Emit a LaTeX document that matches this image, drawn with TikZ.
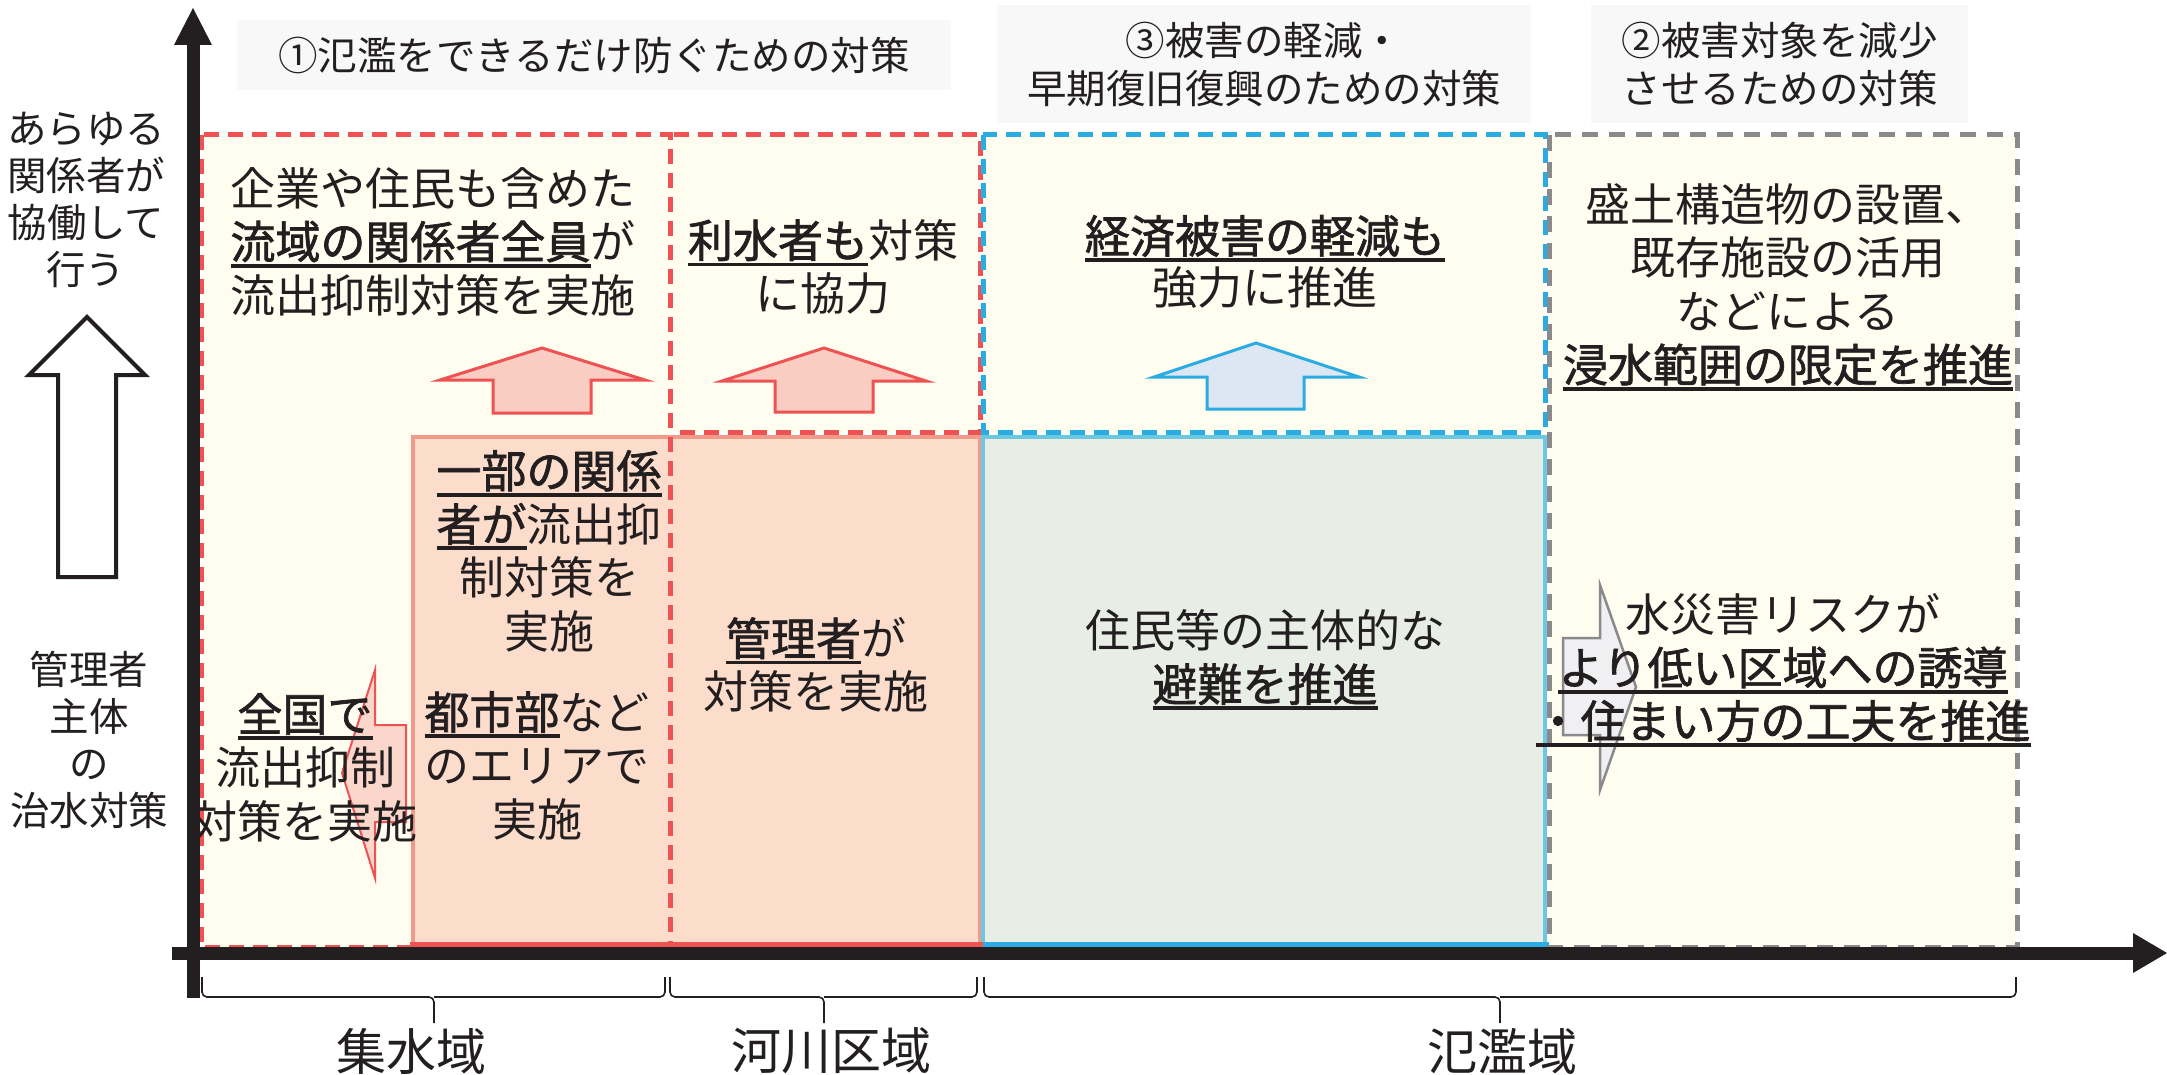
\documentclass[tikz,border=0pt]{standalone}
\usepackage{fontspec}
\setmainfont{Noto Sans CJK JP}
\definecolor{cream}{HTML}{FEFDF0}
\definecolor{redd}{HTML}{EF5253}
\definecolor{salmon}{HTML}{F2998A}
\definecolor{pinkf}{HTML}{FCDCCB}
\definecolor{blued}{HTML}{2AACE2}
\definecolor{lblue}{HTML}{6CC7E0}
\definecolor{greenf}{HTML}{E8EEE6}
\definecolor{grayd}{HTML}{8A8A8C}
\definecolor{hdrbg}{HTML}{F8F8F8}
\definecolor{pinkarrow}{HTML}{F9CDC2}
\definecolor{bluearrow}{HTML}{DCE7F3}
\definecolor{grayarrow}{HTML}{F0F0F2}
\definecolor{ink}{HTML}{231F20}
\newcommand\uln[1]{\setbox0=\hbox{#1}\rlap{\rule[-0.2em]{\wd0}{0.085em}}\box0}
\newcommand\ub[1]{\uln{\addfontfeature{FakeBold=1.5}#1}}
\begin{document}
\begin{tikzpicture}[x=1pt,y=-1pt,
  body/.style={font=\fontsize{45}{53.5}\selectfont, align=center, inner sep=0pt, text=ink},
  hdr/.style={font=\fontsize{39.5}{48}\selectfont, align=center, inner sep=0pt, text=ink, fill=hdrbg},
  side/.style={font=\fontsize{39.5}{47}\selectfont, align=center, inner sep=0pt, text=ink},
  foot/.style={font=\fontsize{50}{56}\selectfont, inner sep=0pt, text=ink},
  reddash/.style={draw=redd, line width=5pt, dash pattern=on 15pt off 9pt},
  bluedash/.style={draw=blued, line width=5pt, dash pattern=on 15pt off 9pt},
  graydash/.style={draw=grayd, line width=5pt, dash pattern=on 16pt off 11pt},
  axisline/.style={draw=ink, line width=13pt},
  br/.style={draw=ink, line width=1.6pt, rounded corners=5pt},
  parrow/.style={draw=redd, line width=3pt, fill=pinkarrow, line join=miter},
  barrow/.style={draw=blued, line width=3pt, fill=bluearrow},
  garrow/.style={draw=grayd, line width=2.5pt, fill=grayarrow}
]
\useasboundingbox (0,0) rectangle (2167,1075);
% headers
\node[hdr, minimum width=714pt, minimum height=70pt] (h1) at (594,55) {①氾濫をできるだけ防ぐための対策};
\node[hdr, minimum width=534pt, minimum height=118pt] (h3) at (1264,64) {③被害の軽減・\\早期復旧復興のための対策};
\node[hdr, minimum width=377pt, minimum height=118pt] (h2) at (1779.5,64) {②被害対象を減少\\させるための対策};
% cream fills
\fill[cream] (201,135) rectangle (670,947);
\fill[cream] (670,135) rectangle (980,432);
\fill[cream] (983,135) rectangle (1545,432);
\fill[cream] (1549,135) rectangle (2017,947);
% solid boxes
\draw[fill=pinkf, draw=salmon, line width=4pt] (413,437) rectangle (980,945);
\draw[fill=greenf, draw=lblue, line width=4pt] (983,437) rectangle (1545,945);
\draw[redd, line width=5pt] (410,944) -- (983,944);
\draw[blued, line width=5pt] (983,944) -- (1549,944);
% dashed outlines
\draw[reddash] (201,135) rectangle (670,947);
\draw[reddash] (674,135) -- (980,135) -- (980,432) -- (674,432);
\draw[bluedash] (983,135) rectangle (1545,432);
\draw[graydash] (1549,135) rectangle (2017,947);
% block arrows
\draw[parrow] (542,348) -- (645,380) -- (591,380) -- (591,413) -- (493,413) -- (493,380) -- (440,380) -- cycle;
\draw[parrow] (824,348) -- (926,381) -- (873,381) -- (873,412) -- (775,412) -- (775,381) -- (722,381) -- cycle;
\draw[barrow] (1256,343) -- (1359,377) -- (1304,377) -- (1304,409) -- (1207,409) -- (1207,377) -- (1154,377) -- cycle;
\draw[draw=redd, line width=2pt, fill=pinkarrow, fill opacity=0.8] (342,773) -- (375,670) -- (375,725) -- (406,725) -- (406,822) -- (375,822) -- (375,878) -- cycle;
\draw[garrow] (1636,687) -- (1600,585) -- (1600,638) -- (1563,638) -- (1563,735) -- (1600,735) -- (1600,790) -- cycle;
% hollow arrow on left
\draw[draw=ink, line width=4pt, fill=white] (87,317) -- (145,375) -- (116,375) -- (116,577) -- (58,577) -- (58,375) -- (29,375) -- cycle;
% texts
\node[body] (t1) at (433,241.5) {企業や住民も含めた\\\ub{流域の関係者全員}が\\流出抑制対策を実施};
\node[body] (t2) at (823,267) {\ub{利水者も}対策\\に協力};
\node[body, font=\fontsize{45}{52}\selectfont] (t3) at (1265,262) {\ub{経済被害の軽減も}\\強力に推進};
\node[body] (t4) at (1788,287) {盛土構造物の設置、\\既存施設の活用\\などによる\\\ub{浸水範囲の限定を推進}};
\node[body] (t5) at (549,551) {\ub{一部の関係}\\\ub{者が}流出抑\\制対策を\\実施};
\node[body] (t6) at (537,765.5) {\ub{都市部}など\\のエリアで\\実施};
\node[body] (t7) at (305,767.5) {\ub{全国で}\\流出抑制\\対策を実施};
\node[body] (t8) at (816,665) {\ub{管理者}が\\対策を実施};
\node[body] (t9) at (1265,660) {住民等の主体的な\\\ub{避難を推進}};
\node[body] (t10) at (1783,670) {水災害リスクが\\\ub{より低い区域への誘導}\\\ub{・住まい方の工夫を推進}};
% side labels
\node[side] (s1) at (86,200) {あらゆる\\関係者が\\協働して\\行う};
\node[side] (s2) at (89,740) {管理者\\主体\\の\\治水対策};
% axes
\coordinate (yb) at (193,998);
\coordinate (yt) at (193,45);
\coordinate (xl) at (172,953);
\coordinate (xr) at (2133,953);
\draw[axisline] (yb) -- (yt);
\fill[ink] (174,45) -- (212,45) -- (193,8) -- cycle;
\draw[axisline] (xl) -- (xr);
\fill[ink] (2133,933) -- (2133,973) -- (2167,953) -- cycle;
% brackets
\draw[br] (202,977) |- (434,997) -- (434,1023);
\draw[br] (434,997) -| (665,977);
\draw[br] (670,977) |- (824,997) -- (824,1023);
\draw[br] (824,997) -| (977,977);
\draw[br] (984,977) |- (1500,997) -- (1500,1023);
\draw[br] (1500,997) -| (2016,977);
% bottom labels
\node[foot] (f1) at (411,1051) {集水域};
\node[foot] (f2) at (831,1051) {河川区域};
\node[foot] (f3) at (1502,1051) {氾濫域};
\end{tikzpicture}
\end{document}
